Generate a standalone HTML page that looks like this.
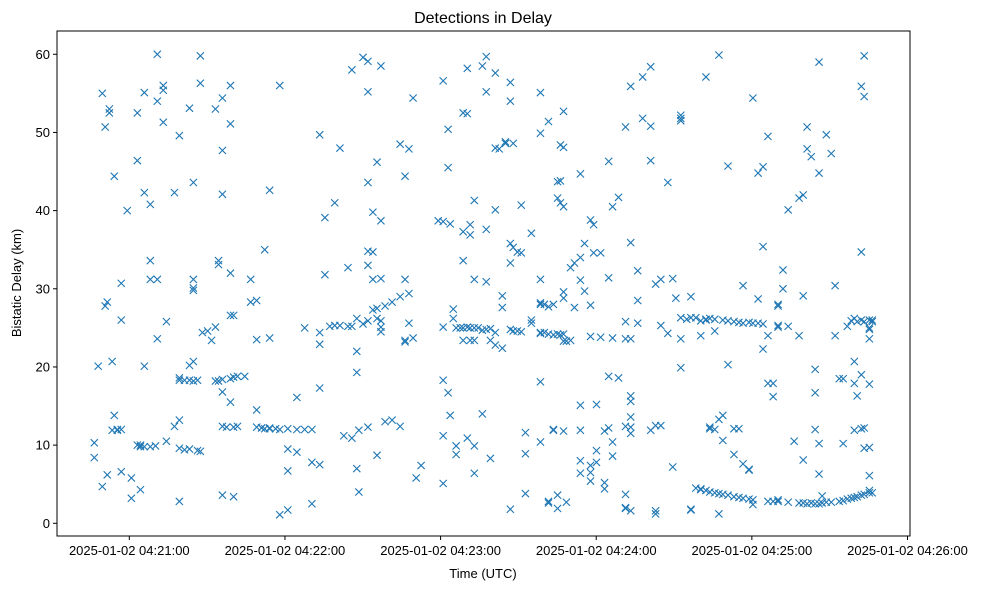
<!DOCTYPE html>
<html><head><meta charset="utf-8"><style>
body{margin:0;background:#fff;}
svg{display:block;font-family:"Liberation Sans","DejaVu Sans",sans-serif;}
</style></head><body>
<svg id="chart" width="989" height="590">
<rect width="989" height="590" fill="#fff"/>
<g id="marks"></g>
<rect x="57" y="31" width="853" height="505" fill="none" stroke="#000" stroke-width="1"/>
<g id="xticks"></g>
<g id="yticks"></g>
<text x="483" y="23" font-size="16" text-anchor="middle">Detections in Delay</text>
<text x="483" y="578" font-size="13" text-anchor="middle">Time (UTC)</text>
<text x="21" y="283" font-size="13" text-anchor="middle" transform="rotate(-90 21 283)">Bistatic Delay (km)</text>
</svg>
<script>
const times=[46.5,48.0,49.6,50.7,51.5,52.3,53.4,54.2,55.4,56.9,59.2,60.8,63.1,64.3,65.8,68.1,70.1,70.8,73.1,74.3,77.4,79.3,81.3,83.2,84.7,86.3,87.4,88.2,90.2,91.7,93.2,94.4,95.9,97.5,99.0,100.2,101.7,104.5,106.8,109.1,111.0,112.2,114.1,116.4,118.0,121.1,124.6,127.6,130.4,133.4,135.4,137.3,139.2,141.2,142.7,144.3,145.8,147.7,148.5,150.1,152.0,153.9,155.5,157.0,158.6,161.3,164.4,166.3,167.8,169.4,170.6,172.5,179.1,181.0,182.9,183.7,184.9,186.0,187.6,188.7,190.3,191.4,193.0,194.5,196.1,197.6,199.2,201.1,202.6,203.8,205.0,206.9,208.0,209.6,211.1,212.7,215.0,218.5,220.0,221.6,223.5,225.1,226.2,227.4,228.5,230.1,231.6,233.9,235.5,237.8,239.0,240.1,241.7,243.2,244.8,246.3,248.6,251.3,253.3,256.0,257.9,261.0,262.9,264.9,267.6,269.5,270.7,272.6,274.9,276.5,278.4,280.3,282.3,283.8,285.7,287.3,288.8,290.8,293.1,295.0,296.6,298.9,300.4,302.4,304.3,306.2,308.2,310.1,312.0,314.0,316.3,318.2,319.8,321.3,322.9,324.4,325.9,327.1,328.7,330.6,332.1,333.7,335.2,336.8,338.3,339.5,340.6,342.2,343.3,345.3,346.4];
const delays=[[10.3,8.4],[20.1],[55,4.7],[27.8,50.7],[28.3,6.2],[52.5,53],[11.9,20.7],[44.4,13.8],[12,11.9],[12,26,30.7,6.6],[40],[3.2,5.8],[46.4,52.5,10],[4.3,10,9.8],[42.3,55.1,20.1,9.8],[33.6,31.2,40.8,9.8],[9.9],[60,23.6,31.2,54],[55.4,56,51.3],[10.5,25.8],[42.3,12.4],[49.6,13.2,9.6,18.6,2.8,18.3],[18.3,9.4],[53.1,18.3,9.5,20.2],[43.6,31.2,30.1,29.8,20.7,18.2],[18.3,9.3],[59.8,56.3,9.2],[24.4],[24.6],[23.4],[53,25.1,18.2],[33.6,33.1,18.2],[54.4,47.7,42.1,16.8,12.4,3.6,18.4],[12.3],[51.1,56,32,15.5,26.6,18.5],[26.6,18.7,3.4,12.3],[18.8,12.4],[18.8],[31.2,28.3],[28.5,23.5,14.5,12.3],[12.2,12.2],[35,12.1],[42.6,23.7,12.1,12.2],[12.1],[56,1.1,12],[12.1,9.5,6.7,1.7],[16.1,9.1,12],[25,12],[12,7.8,2.5],[24.4,49.7,22.9,17.3,7.5],[31.8,39.1],[25.2],[25.3,41],[25.3,48],[11.2],[25.2,32.7],[58,25.2,10.9],[22,26.2,19.3,7],[11.9,4],[59.6,25.5],[59.1,55.2,43.6,34.8,33,25.9,12.3],[39.8,34.7,27.3,31.2],[46.2,27.5,26.2,8.7],[58.5,38.7,25.9,25.1,24.5,31.3],[27.8,13],[28.3,13.2],[48.5,29,12.4],[44.4,31.2,23.2,23.4],[47.9,25.6,29.4],[54.4,23.7],[5.8],[7.4],[38.7],[56.6,38.6,25.1,18.3,11.2,5.1],[45.5,50.4,16.7],[38.3,13.8],[26.2,27.4],[25,9.9,8.8],[25],[37.3,52.5,33.6,25,23.4],[58.2,52.4,25.1,10.9],[38.2,36.9,25,23.4],[41.3,31.2,25,23.4,9.9,6.4],[25],[14,58.5,24.7],[55.2,59.7,37.6,30.9,24.8],[24.9,23.4,8.3],[57.6,48,40.1,24.4,22.8],[47.9],[27.6,22.4,29.1],[48.6,48.8],[56.4,54,33.3,35.8,24.8,1.8],[48.6,35.3,24.6],[34.7,24.6],[34.6,24.5,40.7],[11.6,8.9,3.8],[26,25.6,37.1],[55.1,49.9,31.2,28.2,18.1,10.4,24.3,28,24.4],[28,24.4],[51.4,27.7,2.8,2.6,24.2],[28,24.1,12,11.9],[41.6,24.2,43.7,3.6,1.9],[43.8,48.4,41,24.1],[52.7,48.1,29.6,40.5,28.8,23.3,11.8,24.2],[23.3,2.7],[23.4,32.7],[27.6,33.3],[31.1,34,15.1,6.4,8,11.9,44.7],[35.8,29.7],[23.9,38.8,27.9,5.4,7.4,6.5],[38.2,34.6],[15.2,7.8,9.3],[23.8,34.6],[11.8,4.4,5.2],[46.3,18.8,31.4,12.2],[40.5,23.7,10.4,8.6],[41.7,18.6],[50.7,25.8,23.6,12.4,3.7,1.9,2],[55.9,35.9,23.6,16.3,15.6,13.6,12.3,11.5,1.6],[25.6,32.3,28.5],[57.1,51.8],[58.4,46.4,50.8,11.9],[1.6,1.2,30.6,12.5],[25.3,31.2,12.5],[43.6,24.3],[31.3,7.2],[28.8],[52.2,51.8,51.5,26.3,19.9,23.6],[26.1],[29,1.7,1.8,26.3],[26.3,4.5],[4.4,25.9,24,4.3],[57.1,26.1,26,4.2],[12.3,4,12.1,26.2],[3.9,24.6,26.1,12],[59.9,3.8,13.3,1.2],[13.8,10.6,3.7,26],[45.7,20.3,3.6,25.9],[8.8,12.1,3.4,25.8],[3.3,25.7,12.1],[30.4,25.6,3.2,7.6],[25.7,3.1,6.8,6.9],[25.6,2.4,54.4,3],[44.8,25.6,28.7],[25.5,22.3,45.6,35.4],[49.5,2.8,24,17.9],[2.8,17.9,16.2],[28,27.8,25.1,3,2.8,25.3],[30,32.4],[40.1,25.2,2.7],[10.5],[41.6,24,2.6],[42,29.1,8.1,2.6],[47.9,50.7,2.5],[2.6,46.9],[16.7,19.7,2.5,12],[59,44.8,10.2,6.3,2.5],[2.6,3.5],[49.7,2.7],[47.3,2.7],[24,30.4],[18.5,2.8],[18.5,2.9,10.2],[3.1,25.2],[25.9,3.2],[20.7,26.2,17.9,11.9,3.3],[25.8,16.3,3.4],[55.9,34.7,26,19,12.1,3.6],[59.8,54.6,25.8,9.6,12.2,3.7],[26,25,24.8,23.6,17.8,9.7,6.1,4.2,3.9],[25.8,26,3.9]];
const xTickSeconds=[60,120,180,240,300,360];
const xTickLabels=["2025-01-02 04:21:00","2025-01-02 04:22:00","2025-01-02 04:23:00","2025-01-02 04:24:00","2025-01-02 04:25:00","2025-01-02 04:26:00"];
const yTickValues=[0,10,20,30,40,50,60];

const NS="http://www.w3.org/2000/svg";
function xScale(s){return 129.3+(s-60)*2.594;}
function yScale(v){return 523.3-v*7.817;}
function mk(tag,attrs,parent){const e=document.createElementNS(NS,tag);for(const k in attrs)e.setAttribute(k,attrs[k]);parent.appendChild(e);return e;}
const marks=document.getElementById('marks');
times.forEach((t,i)=>{
  delays[i].forEach(v=>{
    const cx=xScale(t),cy=yScale(v),r=3.6;
    const p=mk('path',{d:`M${cx-r},${cy-r}L${cx+r},${cy+r}M${cx-r},${cy+r}L${cx+r},${cy-r}`,stroke:'#1f77b4','stroke-width':1.1,fill:'none'},marks);
    
    
  });
});
const xg=document.getElementById('xticks');
xTickSeconds.forEach((s,i)=>{
  const x=xScale(s);
  const l=mk('line',{x1:x,x2:x,y1:536,y2:540,stroke:'#000'},xg);
  
  
  const t=mk('text',{x:x,y:555,'font-size':13,'text-anchor':'middle'},xg);
  t.textContent=xTickLabels[i];
  
  
});
const yg=document.getElementById('yticks');
yTickValues.forEach(v=>{
  const y=yScale(v);
  const l=mk('line',{x1:53,x2:57,y1:y,y2:y,stroke:'#000'},yg);
  
  
  const t=mk('text',{x:50,y:y+4.5,'font-size':13,'text-anchor':'end'},yg);
  t.textContent=v;
  
  
});
</script>
</body></html>
